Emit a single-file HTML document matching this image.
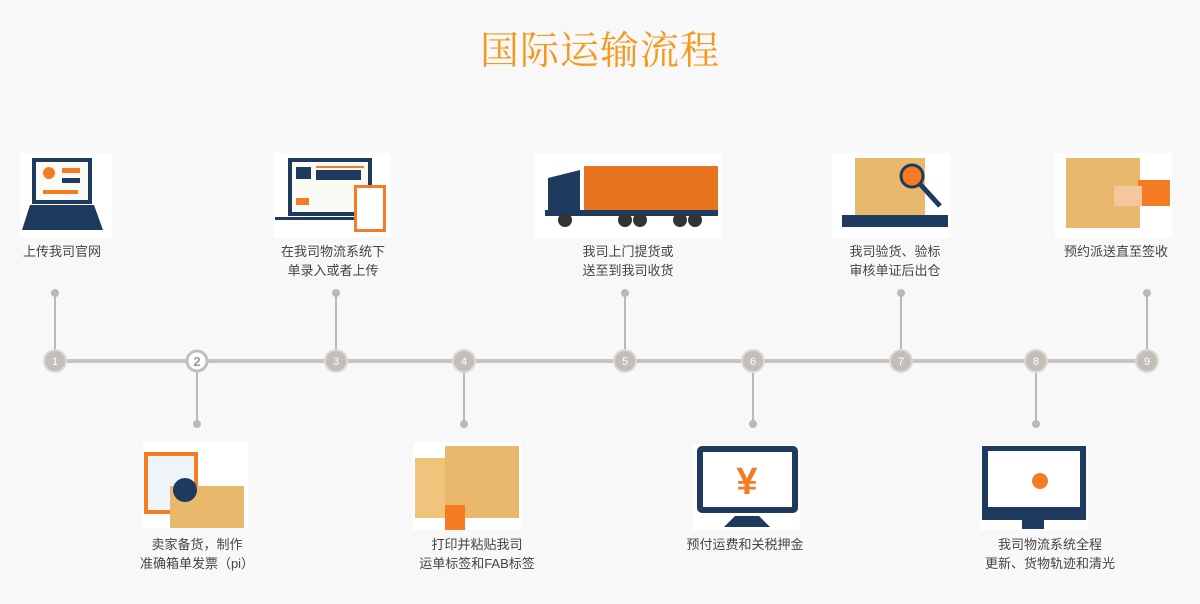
<!DOCTYPE html>
<html><head><meta charset="utf-8"><style>
body{margin:0;width:1200px;height:604px;background:#f8f8f8;overflow:hidden;position:relative;font-family:"Liberation Sans","Noto Sans CJK SC",sans-serif}
.t{position:absolute;font-size:13px;color:#444;text-align:center;line-height:19px;width:200px;white-space:nowrap}
h1{position:absolute;margin:0;left:0;width:1200px;top:20px;text-align:center;font:400 39px "Noto Serif CJK SC",serif;color:#f39a1e;letter-spacing:1px}
</style></head><body>
<h1>国际运输流程</h1>
<svg width="1200" height="604" style="position:absolute;left:0;top:0">
<g stroke="#bdb9b2" stroke-width="2">
<line x1="55" y1="293" x2="55" y2="350"/><line x1="336" y1="293" x2="336" y2="350"/><line x1="625" y1="293" x2="625" y2="350"/><line x1="901" y1="293" x2="901" y2="350"/><line x1="1147" y1="293" x2="1147" y2="350"/>
<line x1="197" y1="372" x2="197" y2="424"/><line x1="464" y1="372" x2="464" y2="424"/><line x1="753" y1="372" x2="753" y2="424"/><line x1="1036" y1="372" x2="1036" y2="424"/>
</g>
<g fill="#bdb9b2">
<circle cx="55" cy="293" r="4"/><circle cx="336" cy="293" r="4"/><circle cx="625" cy="293" r="4"/><circle cx="901" cy="293" r="4"/><circle cx="1147" cy="293" r="4"/>
<circle cx="197" cy="424" r="4"/><circle cx="464" cy="424" r="4"/><circle cx="753" cy="424" r="4"/><circle cx="1036" cy="424" r="4"/>
</g>
<rect x="55" y="359" width="1092" height="4" fill="#c8c4bd"/>
<g fill="#c3bfb8" stroke="#dedad3" stroke-width="2">
<circle cx="55" cy="361" r="11"/><circle cx="336" cy="361" r="11"/><circle cx="464" cy="361" r="11"/><circle cx="625" cy="361" r="11"/><circle cx="753" cy="361" r="11"/><circle cx="901" cy="361" r="11"/><circle cx="1036" cy="361" r="11"/><circle cx="1147" cy="361" r="11"/>
</g>
<circle cx="197" cy="361" r="10" fill="#fff" stroke="#c3bfb8" stroke-width="3"/>
<g font-size="11" fill="#fff" text-anchor="middle" font-family="Liberation Sans">
<text x="55" y="365">1</text><text x="197" y="366" fill="#999" font-size="13" font-weight="bold">2</text><text x="336" y="365">3</text><text x="464" y="365">4</text><text x="625" y="365">5</text><text x="753" y="365">6</text><text x="901" y="365">7</text><text x="1036" y="365">8</text><text x="1147" y="365">9</text>
</g>
<!-- images -->
<g>
<rect x="20" y="153" width="92" height="85" fill="#fff"/>
<rect x="32" y="158" width="60" height="46" fill="#1e3a5f"/><rect x="36" y="162" width="52" height="38" fill="#fbfbf6"/>
<circle cx="49" cy="173" r="6" fill="#f57c22"/><rect x="62" y="168" width="18" height="5" fill="#f57c22"/><rect x="62" y="178" width="18" height="5" fill="#1e3a5f"/><rect x="43" y="190" width="35" height="4" fill="#f57c22"/>
<polygon points="30,205 94,205 103,230 22,230" fill="#1e3a5f"/>
<rect x="274" y="153" width="117" height="85" fill="#fff"/>
<rect x="288" y="158" width="84" height="58" fill="#1e3a5f"/><rect x="292" y="162" width="76" height="50" fill="#fbfbf6"/>
<rect x="296" y="167" width="15" height="12" fill="#1e3a5f"/><rect x="316" y="170" width="45" height="10" fill="#1e3a5f"/><rect x="316" y="166" width="48" height="2" fill="#f57c22"/><rect x="296" y="198" width="13" height="7" fill="#f57c22"/>
<rect x="275" y="217" width="95" height="3" fill="#1e3a5f"/>
<rect x="354" y="185" width="32" height="47" fill="#f57c22"/><rect x="357" y="188" width="26" height="41" fill="#fff"/>
<rect x="534" y="153" width="187" height="85" fill="#fff"/>
<rect x="584" y="166" width="134" height="45" fill="#e8731f"/>
<polygon points="548,178 580,170 580,212 548,212" fill="#1e3a5f"/><rect x="545" y="210" width="173" height="6" fill="#1e3a5f"/>
<g fill="#333"><circle cx="565" cy="220" r="7"/><circle cx="625" cy="220" r="7"/><circle cx="640" cy="220" r="7"/><circle cx="680" cy="220" r="7"/><circle cx="695" cy="220" r="7"/></g>
<rect x="832" y="153" width="119" height="85" fill="#fff"/>
<rect x="855" y="158" width="70" height="60" fill="#e8b86d"/><rect x="842" y="215" width="106" height="12" fill="#1e3a5f"/>
<circle cx="912" cy="176" r="11" fill="#f57c22" stroke="#1e3a5f" stroke-width="3"/><line x1="920" y1="184" x2="940" y2="206" stroke="#1e3a5f" stroke-width="5"/>
<rect x="1055" y="153" width="117" height="85" fill="#fff"/>
<rect x="1066" y="158" width="74" height="70" fill="#e8b86d"/><rect x="1138" y="180" width="32" height="26" fill="#f57c22"/><rect x="1114" y="186" width="28" height="20" fill="#f4c79e"/>
<rect x="143" y="442" width="105" height="86" fill="#fff"/>
<rect x="144" y="452" width="54" height="62" fill="#f57c22"/><rect x="148" y="456" width="46" height="54" fill="#eef4f8"/>
<rect x="170" y="486" width="74" height="42" fill="#e8b86d"/><circle cx="185" cy="490" r="12" fill="#1e3a5f"/>
<rect x="413" y="442" width="108" height="88" fill="#fff"/>
<rect x="415" y="458" width="30" height="60" fill="#f0c47a"/><rect x="445" y="446" width="74" height="72" fill="#e8b86d"/><rect x="445" y="505" width="20" height="25" fill="#f57c22"/>
<rect x="693" y="445" width="107" height="85" fill="#fff"/>
<rect x="697" y="446" width="101" height="67" rx="5" fill="#1e3a5f"/><rect x="703" y="452" width="89" height="55" fill="#fff"/>
<text x="747" y="494" font-size="38" font-weight="bold" fill="#f57c22" text-anchor="middle" font-family="Liberation Sans">¥</text>
<polygon points="735,516 759,516 770,527 724,527" fill="#1e3a5f"/>
<rect x="980" y="445" width="108" height="85" fill="#fff"/>
<rect x="982" y="446" width="104" height="74" fill="#1e3a5f"/><rect x="988" y="451" width="92" height="56" fill="#fff"/>
<circle cx="1040" cy="481" r="8" fill="#f57c22"/><rect x="1022" y="519" width="22" height="10" fill="#1e3a5f"/>
</g>
</svg>
<div class="t" style="left:-38px;top:242px">上传我司官网</div>
<div class="t" style="left:233px;top:242px">在我司物流系统下<br>单录入或者上传</div>
<div class="t" style="left:528px;top:242px">我司上门提货或<br>送至到我司收货</div>
<div class="t" style="left:795px;top:242px">我司验货、验标<br>审核单证后出仓</div>
<div class="t" style="left:1016px;top:242px">预约派送直至签收</div>
<div class="t" style="left:97px;top:535px">卖家备货，制作<br>准确箱单发票（pi）</div>
<div class="t" style="left:377px;top:535px">打印并粘贴我司<br>运单标签和FAB标签</div>
<div class="t" style="left:645px;top:535px">预付运费和关税押金</div>
<div class="t" style="left:950px;top:535px">我司物流系统全程<br>更新、货物轨迹和清光</div>
</body></html>
